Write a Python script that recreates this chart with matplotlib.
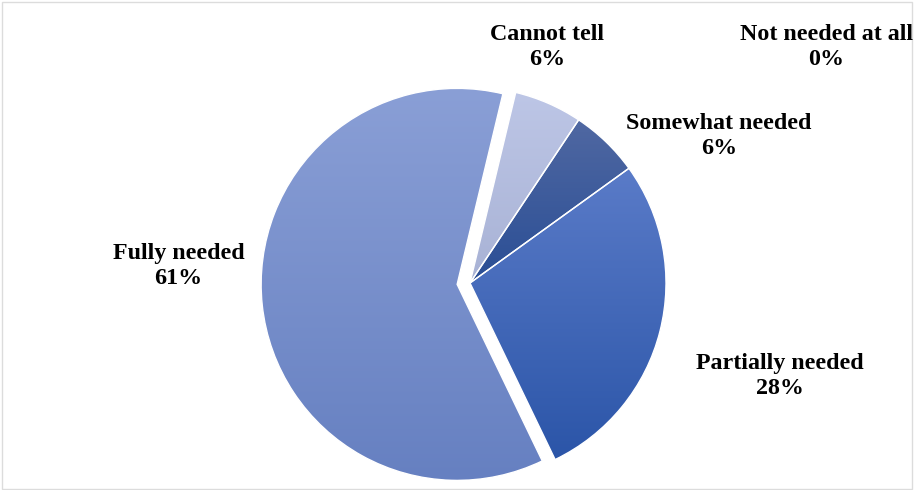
import numpy as np
import matplotlib.pyplot as plt
from matplotlib.colors import LinearSegmentedColormap
from matplotlib.patches import Rectangle

# Данные диаграммы (по часовой стрелке от верха)
categories = ['Not needed at all', 'Cannot tell', 'Somewhat needed',
              'Partially needed', 'Fully needed']
shares = [0.0, 5.6, 5.7, 27.8, 60.9]

# Цвета градиента: верх -> низ
grad_top = ['#c4cce9', '#bdc6e6', '#5068a2', '#5a7bc8', '#8a9fd6']
grad_bottom = ['#a9b3d5', '#a8b2d5', '#2a4e95', '#2b55a8', '#6680c1']
explode = [0, 0, 0, 0, 0.066]

# Положение подписей (доли фигуры)
label_xy = [(826 / 914, 1 - 47 / 490), (547 / 914, 1 - 47 / 490),
            (719 / 914, 1 - 136 / 490), (780 / 914, 1 - 376 / 490),
            (178.5 / 914, 1 - 266 / 490)]

plt.rcParams['font.family'] = ['Liberation Serif', 'DejaVu Serif']

fig = plt.figure(figsize=(9.14, 4.9), dpi=100)
ax = fig.add_axes([0, 0, 1, 1])

r_px = 196.0
cx, cy = 470.0, 283.0

wedges, _ = ax.pie(shares, explode=explode, startangle=76.5, counterclock=False,
                   radius=1.0, wedgeprops=dict(edgecolor='white', linewidth=1.0))

ax.set_aspect('auto')
ax.axis('off')

grad = np.linspace(0, 1, 256).reshape(-1, 1)
for w, top, bot in zip(wedges, grad_top, grad_bottom):
    if w.theta1 == w.theta2:
        continue
    ang = np.radians(np.linspace(w.theta1, w.theta2, 200))
    xs = np.concatenate([[w.center[0]], w.center[0] + w.r * np.cos(ang)])
    ys = np.concatenate([[w.center[1]], w.center[1] + w.r * np.sin(ang)])
    cmap = LinearSegmentedColormap.from_list('g', [top, bot])
    im = ax.imshow(grad, cmap=cmap, aspect='auto', interpolation='bilinear',
                   extent=[xs.min(), xs.max(), ys.min(), ys.max()],
                   origin='upper', zorder=1)
    im.set_clip_path(w)
    w.set_facecolor('none')
    w.set_zorder(2)

ax.set_xlim(-cx / r_px, (914 - cx) / r_px)
ax.set_ylim(-(490 - cy) / r_px, cy / r_px)

for name, val, (tx, ty) in zip(categories, shares, label_xy):
    fig.text(tx, ty, f'{name}\n{round(val):d}%', ha='center', va='center',
             multialignment='center', fontsize=17.3, fontweight='bold',
             linespacing=1.25, color='black')

# Рамка диаграммы
fig.patches.append(Rectangle((0.002, 0.002), 0.996, 0.994, transform=fig.transFigure,
                             fill=False, edgecolor='#dcdcdc', linewidth=1.0))

fig.savefig('out.png', dpi=100)
